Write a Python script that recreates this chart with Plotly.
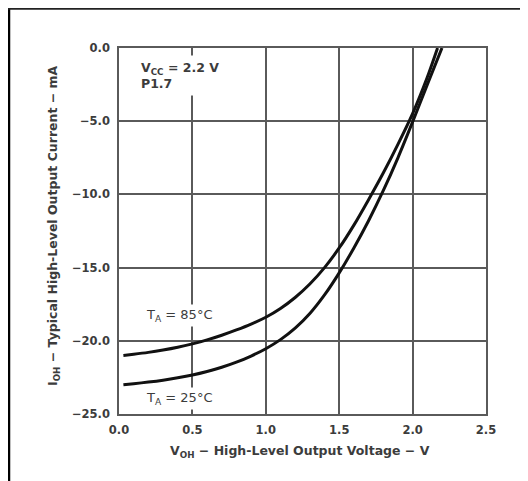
import plotly.graph_objects as go

# Data
v_85 = [0.03, 0.1, 0.2, 0.3, 0.4, 0.5, 0.6, 0.7, 0.8, 0.9, 1.0, 1.1, 1.2, 1.3, 1.4, 1.5, 1.6, 1.7, 1.8, 1.9, 2.0, 2.1, 2.17]
i_85 = [-21.0, -20.92, -20.79, -20.63, -20.44, -20.21, -19.94, -19.62, -19.26, -18.86, -18.39, -17.79, -17.04, -16.12, -15.0, -13.66, -12.1, -10.36, -8.54, -6.58, -4.48, -2.0, 0.0]

v_25 = [0.03, 0.1, 0.2, 0.3, 0.4, 0.5, 0.6, 0.7, 0.8, 0.9, 1.0, 1.1, 1.2, 1.3, 1.4, 1.5, 1.6, 1.7, 1.8, 1.9, 2.0, 2.1, 2.2]
i_25 = [-23.0, -22.93, -22.82, -22.69, -22.53, -22.34, -22.1, -21.81, -21.46, -21.04, -20.54, -19.92, -19.14, -18.14, -16.87, -15.36, -13.66, -11.8, -9.75, -7.5, -5.05, -2.5, 0.0]

x_ticks = [0.0, 0.5, 1.0, 1.5, 2.0, 2.5]
x_tick_labels = ["0.0", "0.5", "1.0", "1.5", "2.0", "2.5"]
y_ticks = [0.0, -5.0, -10.0, -15.0, -20.0, -25.0]
y_tick_labels = ["0.0", "−5.0", "−10.0", "−15.0", "−20.0", "−25.0"]

# The page adds an 8px body margin; figure is sized to fill the rest
OFF = 8
W, H = 528 - OFF, 481 - OFF
PL, PR, PT, PB = 119, 486, 48, 414          # plot area in page pixels
L, T = PL - OFF, PT - OFF
R, B = W - (PR - OFF), H - (PB - OFF)
pw, ph = PR - PL, PB - PT

def px(xp):
    return (xp - PL) / pw

def py(yp):
    return (PB - yp) / ph

FONT = "DejaVu Sans"
TXT = "#3c3c3c"
GRID = "#5a5a5a"

fig = go.Figure()
for xs, ys in [(v_85, i_85), (v_25, i_25)]:
    fig.add_trace(go.Scatter(x=xs, y=ys, mode="lines",
                             line=dict(color="#111111", width=3, shape="spline", smoothing=0.8),
                             showlegend=False, hoverinfo="skip"))

tickfont = dict(family=FONT, size=11.5, color=TXT, weight="bold")
fig.update_layout(
    width=W, height=H,
    margin=dict(l=L, r=R, t=T, b=B, pad=0),
    paper_bgcolor="white", plot_bgcolor="white",
    font=dict(family=FONT, color=TXT, size=11),
    xaxis=dict(range=[0, 2.5], tickvals=x_ticks, ticktext=x_tick_labels,
               showgrid=True, gridcolor=GRID, gridwidth=1.5,
               showline=True, linecolor=GRID, linewidth=1.5, mirror=True,
               zeroline=False, ticks="", ticklen=0, tickfont=tickfont,
               ticklabelstandoff=4),
    yaxis=dict(range=[-25, 0], tickvals=y_ticks, ticktext=y_tick_labels,
               showgrid=True, gridcolor=GRID, gridwidth=1.5,
               showline=True, linecolor=GRID, linewidth=1.5, mirror=True,
               zeroline=False, ticks="", ticklen=0, tickfont=tickfont,
               ticklabelstandoff=5),
)

# Outer frame (left and top edges)
fig.add_shape(type="line", xref="paper", yref="paper",
              x0=px(9), x1=px(9), y0=py(7.5), y1=py(490), line=dict(color="black", width=2.5))
fig.add_shape(type="line", xref="paper", yref="paper",
              x0=px(8), x1=px(540), y0=py(8.5), y1=py(8.5), line=dict(color="#222", width=2.5))

# Axis titles
fig.add_annotation(xref="paper", yref="paper", x=px(53), y=py(226), textangle=-90,
                   xanchor="center", yanchor="middle",
                   text="I<sub>OH</sub> − Typical High-Level Output Current − mA",
                   showarrow=False, font=dict(family=FONT, size=12.5, color=TXT, weight="bold"))
fig.add_annotation(xref="paper", yref="paper", x=px(300), y=py(452),
                   xanchor="center", yanchor="middle",
                   text="V<sub>OH</sub> − High-Level Output Voltage − V",
                   showarrow=False, font=dict(family=FONT, size=12.5, color=TXT, weight="bold"))

# In-plot labels
fig.add_annotation(xref="paper", yref="paper", x=px(136), y=py(76), xanchor="left", yanchor="middle",
                   text="V<sub>CC</sub> = 2.2 V<br>P1.7", align="left",
                   showarrow=False, bgcolor="white", borderpad=4,
                   font=dict(family=FONT, size=12.5, color=TXT, weight="bold"))
fig.add_annotation(xref="paper", yref="paper", x=px(179), y=py(315), xanchor="center", yanchor="middle",
                   text="T<sub>A</sub> = 85°C", showarrow=False, bgcolor="white", borderpad=2,
                   font=dict(family=FONT, size=13, color=TXT))
fig.add_annotation(xref="paper", yref="paper", x=px(179), y=py(398), xanchor="center", yanchor="middle",
                   text="T<sub>A</sub> = 25°C", showarrow=False, bgcolor="white", borderpad=2,
                   font=dict(family=FONT, size=13, color=TXT))

fig.write_html("out.html")
